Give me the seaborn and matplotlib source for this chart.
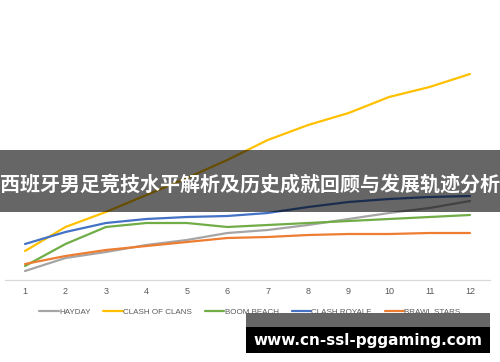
import matplotlib
matplotlib.use("Agg")
import matplotlib.pyplot as plt
from matplotlib.patches import Rectangle
import seaborn as sns
import pandas as pd

months = list(range(1, 13))
hayday = [9, 22, 28, 35, 40, 47, 50, 55, 61, 67, 72, 79]
clash_of_clans = [29, 53, 68, 85, 102, 120, 140, 155, 167, 183, 193, 206]
boom_beach = [14, 36, 53, 57, 57, 53, 55, 57, 59, 61, 63, 65]
clash_royale = [36, 48, 57, 61, 63, 64, 67, 73, 78, 81, 83, 84]
brawl_stars = [16, 24, 30, 34, 38, 42, 43, 45, 46, 46, 47, 47]

series_names = ["HAYDAY", "CLASH OF CLANS", "BOOM BEACH", "CLASH ROYALE", "BRAWL STARS"]
series_values = [hayday, clash_of_clans, boom_beach, clash_royale, brawl_stars]
colors = ["#A5A5A5", "#FFC000", "#70AD47", "#4472C4", "#ED7D31"]

title_text = "西班牙男足竞技水平解析及历史成就回顾与发展轨迹分析"
url_text = "www.cn-ssl-pggaming.com"

rows = []
for name, vals in zip(series_names, series_values):
    for m, v in zip(months, vals):
        rows.append({"x": m, "value": v, "series": name})
df = pd.DataFrame(rows)

sns.set_theme(style="white")
plt.rcParams['font.family'] = ['Liberation Sans', 'DejaVu Sans']

W, H = 500, 362
fig = plt.figure(figsize=(5, 3.62), dpi=100)
ax = fig.add_axes([4.8 / W, (H - 280) / H, (490.2 - 4.8) / W, 270 / H])

sns.lineplot(data=df, x="x", y="value", hue="series", hue_order=series_names,
             palette=colors, linewidth=1.6, ax=ax, legend=True)

ax.set_xlim(0.5, 12.5)
ax.set_ylim(0, 270)
ax.set_xticks(months)
ax.set_xticklabels([str(m) for m in months])
ax.set_yticks([])
ax.set_xlabel("")
ax.set_ylabel("")
for s in ["top", "left", "right"]:
    ax.spines[s].set_visible(False)
ax.spines["bottom"].set_color("#D9D9D9")
ax.spines["bottom"].set_linewidth(0.9)
ax.tick_params(axis="x", length=0, pad=5, labelsize=6.5, labelcolor="#595959")

handles, labels = ax.get_legend_handles_labels()
ax.get_legend().remove()
leg = fig.legend(handles, labels, loc="center", bbox_to_anchor=(250 / W, (H - 312) / H),
                 ncol=5, frameon=False, fontsize=5.8, handlelength=2.4,
                 columnspacing=1.6, handletextpad=0.05, labelcolor="#595959")

# dark translucent banner
fig.add_artist(Rectangle((0, (H - 212) / H), 1, 62 / H, transform=fig.transFigure,
                         facecolor="black", alpha=0.6, edgecolor="none", zorder=5))
fig.text(0.5, (H - 184) / H, title_text, ha="center", va="center", fontsize=14.4,
         color="white", weight="bold", family=['Noto Sans CJK SC', 'DejaVu Sans'], zorder=6)

# bottom url box
fig.add_artist(Rectangle((246 / W, (H - 327) / H), 244 / W, 14 / H, transform=fig.transFigure,
                         facecolor="#666666", edgecolor="none", zorder=5))
fig.add_artist(Rectangle((246 / W, (H - 353) / H), 244 / W, 26 / H, transform=fig.transFigure,
                         facecolor="black", edgecolor="none", zorder=5))
fig.text(368 / W, (H - 340) / H, url_text, ha="center", va="center", fontsize=11,
         color="white", weight="bold", family=['DejaVu Sans'], zorder=6)

fig.savefig("out.png", dpi=100)
